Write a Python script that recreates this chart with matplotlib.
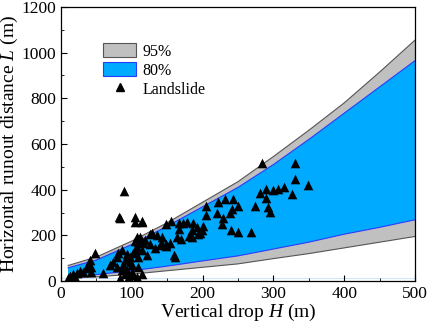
import matplotlib
matplotlib.use('Agg')
import matplotlib.pyplot as plt
from matplotlib.patches import Patch
from matplotlib.lines import Line2D
from matplotlib.ticker import MultipleLocator

plt.rcParams['font.family'] = ['Liberation Serif', 'DejaVu Serif']
plt.rcParams['mathtext.fontset'] = 'custom'
plt.rcParams['mathtext.it'] = 'Liberation Serif:italic'
plt.rcParams['mathtext.rm'] = 'Liberation Serif'

# --- prediction bands ---
band_h = [10, 50, 100, 150, 200, 250, 300, 350, 400, 450, 500]
upper95 = [68, 105, 175, 255, 345, 435, 545, 660, 780, 915, 1055]
upper80 = [58, 92, 160, 240, 325, 410, 510, 620, 735, 850, 965]
lower80 = [20, 28, 45, 65, 88, 110, 140, 170, 205, 235, 268]
lower95 = [12, 18, 30, 45, 60, 75, 98, 120, 145, 170, 195]

# --- landslide cases ---
drop_h = [284, 331, 331, 349, 281, 290, 300, 307, 315, 290, 326, 293, 295, 274,
          269, 250, 240, 243, 250, 241, 239, 232, 222, 220, 229, 228, 205, 205,
          201, 199, 193, 185, 181, 178, 166, 166, 172, 164, 169, 156, 149, 154,
          149, 142, 159, 161, 142, 133, 126, 119, 125, 112, 116, 109, 107, 105,
          114, 121, 109, 105, 114, 83, 89, 93, 97, 102, 86, 81, 79, 74, 69,
          79, 88, 100, 93, 100, 109, 114, 100, 107, 95, 83, 90, 86, 90, 97,
          13, 17, 22, 27, 31, 39, 36, 41, 43, 48, 59, 43, 20, 10, 135, 128,
          105, 107, 112, 82, 104, 114, 186, 192, 185, 196, 140, 148]
runout_l = [515, 518, 445, 420, 384, 401, 398, 401, 413, 362, 381, 323, 304, 328,
            216, 216, 223, 358, 328, 314, 297, 358, 347, 297, 275, 250, 328, 289,
            241, 223, 206, 223, 197, 260, 253, 226, 253, 191, 183, 264, 250, 168,
            161, 161, 114, 104, 191, 143, 206, 180, 162, 187, 165, 172, 150, 136,
            136, 114, 106, 260, 260, 275, 396, 118, 107, 121, 136, 121, 107, 85, 70,
            63, 70, 70, 48, 41, 63, 31, 26, 19, 12, 12, 31, 48, 92, 85,
            22, 31, 36, 45, 41, 70, 56, 92, 63, 121, 36, 41, 19, 12, 201, 209,
            177, 191, 191, 282, 282, 264, 255, 235, 191, 212, 158, 155]

gray_fill = '#c0c0c0'
gray_edge = '#555555'
blue_fill = '#00aaff'
blue_edge = '#2a3cff'

fig = plt.figure(figsize=(4.29, 3.28), dpi=100)
ax = fig.add_axes([61 / 429, 1 - 281 / 328, 354 / 429, 274 / 328])

ax.axhline(15, color='#cfe6ff', lw=0.8, zorder=0.5)
ax.fill_between(band_h, lower95, upper95, facecolor=gray_fill, edgecolor='none', zorder=1)
ax.plot(band_h, upper95, color=gray_edge, lw=0.8, zorder=1.5)
ax.plot(band_h, lower95, color=gray_edge, lw=0.8, zorder=1.5)
ax.fill_between(band_h, lower80, upper80, facecolor=blue_fill, edgecolor='none', zorder=2)
ax.plot(band_h, upper80, color=blue_edge, lw=0.8, zorder=2.5)
ax.plot(band_h, lower80, color=blue_edge, lw=0.8, zorder=2.5)

ax.scatter(drop_h, runout_l, marker='^', s=48, color='black', zorder=3, linewidths=0)

ax.set_xlim(0, 500)
ax.set_ylim(0, 1200)
ax.xaxis.set_major_locator(MultipleLocator(100))
ax.xaxis.set_minor_locator(MultipleLocator(50))
ax.yaxis.set_major_locator(MultipleLocator(200))
ax.yaxis.set_minor_locator(MultipleLocator(100))
ax.tick_params(which='both', direction='in', labelsize=12.5, top=False, right=False)
ax.tick_params(which='major', length=4)
ax.tick_params(which='minor', length=2.5)
for s in ax.spines.values():
    s.set_linewidth(0.9)

ax.set_xlabel('Vertical drop $\\mathit{H}$ (m)', fontsize=14, labelpad=0)
ax.set_ylabel('Horizontal runout distance $\\mathit{L}$ (m)', fontsize=14, labelpad=1)

handles = [Patch(facecolor=gray_fill, edgecolor=gray_edge, lw=0.8),
           Patch(facecolor=blue_fill, edgecolor=blue_edge, lw=0.8),
           Line2D([], [], marker='^', color='black', ls='none', markersize=6)]
ax.legend(handles, ['95%', '80%', 'Landslide'], loc='upper left',
          bbox_to_anchor=(0.1, 0.892), frameon=False, fontsize=11.5,
          handlelength=2.1, handleheight=1.0, handletextpad=0.4,
          labelspacing=0.15, borderaxespad=0)

fig.savefig('out.png', dpi=100)
